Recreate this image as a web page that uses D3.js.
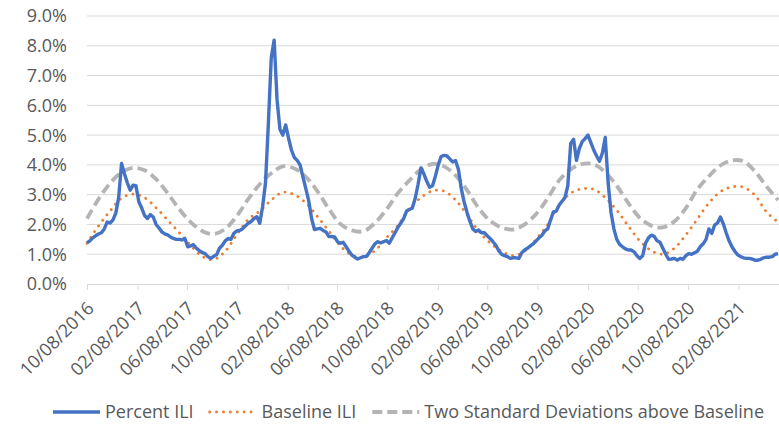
<!DOCTYPE html>
<html lang="en">
<head>
  <meta charset="UTF-8">
  <title>Percent ILI vs Baseline</title>
  <script src="https://d3js.org/d3.v7.min.js"></script>
  <style>
      body {
          margin: 0;
          padding: 0;
          background: #fff;
          font-family: 'Open Sans', sans-serif;
          overflow: hidden;
      }
      svg { display: block; }
      .tick-label { fill: #595959; font-size: 18px; }
  </style>
</head>
<body>
  <svg width="779" height="429"></svg>
  <script>
      // weekly data starting with the week ending 10/08/2016
      const startWeek = new Date(2016, 9, 8);

      // Percent ILI, one value per week
      const percentILI = [
          1.38, 1.45, 1.55, 1.62, 1.68, 1.72, 1.85, 2.08, 2.05, 2.15,
          2.38, 2.9, 4.05, 3.7, 3.4, 3.15, 3.32, 3.3, 2.76, 2.55,
          2.3, 2.2, 2.33, 2.25, 2.0, 1.88, 1.75, 1.68, 1.65, 1.58,
          1.53, 1.5, 1.5, 1.48, 1.53, 1.25, 1.28, 1.32, 1.2, 1.12,
          1.06, 1.02, 0.92, 0.86, 0.93, 0.98, 1.2, 1.3, 1.45, 1.53,
          1.5, 1.7, 1.78, 1.8, 1.85, 1.95, 2.04, 2.1, 2.2, 2.26,
          2.04, 2.6, 3.4, 5.4, 7.6, 8.19, 6.2, 5.2, 5.0, 5.34,
          4.9, 4.5, 4.25, 4.15, 4.0, 3.6, 3.2, 2.8, 2.2, 1.83,
          1.85, 1.87, 1.8, 1.75, 1.59, 1.6, 1.58, 1.42, 1.37, 1.4,
          1.25, 1.1, 0.97, 0.9, 0.84, 0.88, 0.92, 0.92, 1.05, 1.2,
          1.35, 1.42, 1.38, 1.42, 1.46, 1.37, 1.55, 1.72, 1.9, 2.05,
          2.2, 2.45, 2.5, 2.55, 2.88, 3.35, 3.9, 3.7, 3.45, 3.25,
          3.3, 3.62, 4.0, 4.28, 4.32, 4.3, 4.2, 4.1, 4.15, 3.85,
          3.2, 2.75, 2.4, 2.1, 1.85, 1.76, 1.81, 1.72, 1.72, 1.62,
          1.53, 1.42, 1.3, 1.12, 1.0, 0.95, 0.92, 0.86, 0.88, 0.88,
          0.86, 1.05, 1.14, 1.2, 1.28, 1.35, 1.45, 1.55, 1.64, 1.78,
          1.85, 2.15, 2.42, 2.45, 2.65, 2.78, 2.9, 3.3, 4.72, 4.86,
          4.15, 4.55, 4.78, 4.88, 5.0, 4.75, 4.5, 4.3, 4.12, 4.4,
          4.92, 3.4, 2.4, 1.85, 1.5, 1.33, 1.25, 1.18, 1.14, 1.14,
          1.08, 0.95, 0.86, 0.95, 1.37, 1.55, 1.64, 1.6, 1.45, 1.4,
          1.2, 1.0, 0.83, 0.84, 0.86, 0.8, 0.86, 0.83, 0.95, 1.02,
          1.0, 1.05, 1.1, 1.25, 1.35, 1.5, 1.85, 1.7, 1.98, 2.05,
          2.25, 2.02, 1.72, 1.45, 1.25, 1.1, 0.98, 0.92, 0.88, 0.86,
          0.86, 0.84, 0.8, 0.8, 0.83, 0.88, 0.9, 0.9, 0.92, 1.0,
          1.02
      ];

      // Baseline and threshold read every 4 weeks
      const baselineILI = [
          1.37, 1.95, 2.45, 2.88, 3.02, 2.9, 2.56, 2.15, 1.73, 1.3,
          0.93, 0.82, 1.1, 1.65, 2.17, 2.45, 2.82, 3.08, 3.0, 2.72,
          2.27, 1.78, 1.28, 0.97, 0.9, 1.12, 1.55, 1.97, 2.55, 2.9,
          3.13, 3.12, 2.82, 2.33, 1.78, 1.38, 1.1, 0.95, 1.1, 1.5,
          2.0, 2.65, 3.05, 3.2, 3.18, 2.9, 2.48, 1.95, 1.45, 1.12,
          1.0, 1.2, 1.65, 2.18, 2.72, 3.1, 3.26, 3.25, 2.98, 2.42,
          2.08
      ];
      const twoSDAbove = [
          2.2, 2.85, 3.38, 3.75, 3.9, 3.82, 3.52, 3.05, 2.52, 2.08,
          1.78, 1.68, 1.85, 2.28, 2.85, 3.35, 3.72, 3.95, 3.88, 3.6,
          3.12, 2.52, 2.02, 1.8, 1.77, 2.05, 2.5, 3.05, 3.48, 3.85,
          4.03, 3.95, 3.65, 3.15, 2.55, 2.12, 1.9, 1.83, 2.0, 2.35,
          2.88, 3.48, 3.85, 4.03, 4.02, 3.75, 3.3, 2.72, 2.22, 1.96,
          1.9, 2.1, 2.55, 3.18, 3.62, 3.98, 4.15, 4.12, 3.78, 3.28,
          2.82
      ];

      const yTicks = [0, 1, 2, 3, 4, 5, 6, 7, 8, 9];
      const seriesNames = ["Percent ILI", "Baseline ILI", "Two Standard Deviations above Baseline"];

      const weekDates = percentILI.map((d, i) => d3.timeDay.offset(startWeek, 7 * i));
      const curveDates = baselineILI.map((d, i) => d3.timeDay.offset(startWeek, 28 * i));

      const svg = d3.select("svg");
      const plotLeft = 87, plotRight = 778, plotTop = 16, plotBottom = 284;

      const x = d3.scaleTime()
          .domain([weekDates[0], weekDates[weekDates.length - 1]])
          .range([plotLeft, plotRight]);
      const y = d3.scaleLinear().domain([0, 9]).range([plotBottom, plotTop]);

      // x ticks every 4 months on the 8th
      const xTicks = [];
      for (let t = startWeek; t <= x.domain()[1]; t = d3.timeMonth.offset(t, 4)) xTicks.push(t);

      // gridlines
      svg.append("g")
          .selectAll("line")
          .data(yTicks.slice(1))
          .join("line")
          .attr("x1", plotLeft).attr("x2", 779)
          .attr("y1", d => y(d)).attr("y2", d => y(d))
          .attr("stroke", "#d9d9d9")
          .attr("stroke-width", 1);

      // y labels
      svg.append("g")
          .selectAll("text")
          .data(yTicks)
          .join("text")
          .attr("class", "tick-label")
          .attr("x", 67)
          .attr("y", d => y(d))
          .attr("dy", "0.36em")
          .attr("text-anchor", "end")
          .text(d => d.toFixed(1) + "%");

      // x axis
      const xAxis = d3.axisBottom(x)
          .tickValues(xTicks)
          .tickSize(6)
          .tickFormat(d3.timeFormat("%m/%d/%Y"));

      const gx = svg.append("g")
          .attr("transform", `translate(0,${plotBottom})`)
          .call(xAxis);
      gx.attr("font-family", null).attr("font-size", null);
      gx.select(".domain").attr("d", `M${plotLeft},0.5H779`).attr("stroke", "#d9d9d9");
      gx.selectAll(".tick line").attr("stroke", "#d9d9d9");
      gx.selectAll(".tick text")
          .attr("class", "tick-label")
          .attr("fill", null)
          .attr("text-anchor", "end")
          .attr("dy", "0.35em")
          .attr("y", 0)
          .attr("transform", "translate(3,21) rotate(-45)");

      const lineWeekly = d3.line()
          .x((d, i) => x(weekDates[i]))
          .y(d => y(d));
      const lineCurve = d3.line()
          .x((d, i) => x(curveDates[i]))
          .y(d => y(d))
          .curve(d3.curveCatmullRom);

      svg.append("path")
          .datum(twoSDAbove)
          .attr("d", lineCurve)
          .attr("fill", "none")
          .attr("stroke", "#b4b4b4")
          .attr("stroke-width", 3.8)
          .attr("stroke-dasharray", "10 5");

      svg.append("path")
          .datum(baselineILI)
          .attr("d", lineCurve)
          .attr("fill", "none")
          .attr("stroke", "#ed7d31")
          .attr("stroke-width", 2.8)
          .attr("stroke-linecap", "round")
          .attr("stroke-dasharray", "0.1 6.8");

      svg.append("path")
          .datum(percentILI)
          .attr("d", lineWeekly)
          .attr("fill", "none")
          .attr("stroke", "#4472c4")
          .attr("stroke-width", 3.4)
          .attr("stroke-linejoin", "round");

      // legend
      const legendStyles = [
          { stroke: "#4472c4", width: 3.4, dash: null, cap: "butt" },
          { stroke: "#ed7d31", width: 2.8, dash: "0.1 6.8", cap: "round" },
          { stroke: "#b4b4b4", width: 3.8, dash: "10 5", cap: "butt" }
      ];
      const legend = svg.append("g");
      let lx = 0;
      seriesNames.forEach((name, i) => {
          const st = legendStyles[i];
          legend.append("line")
              .attr("x1", lx).attr("x2", lx + 47)
              .attr("y1", 412).attr("y2", 412)
              .attr("stroke", st.stroke)
              .attr("stroke-width", st.width)
              .attr("stroke-linecap", st.cap)
              .attr("stroke-dasharray", st.dash);
          const t = legend.append("text")
              .attr("class", "tick-label")
              .attr("x", lx + 52)
              .attr("y", 412)
              .attr("dy", "0.36em")
              .text(name);
          lx += 52 + t.node().getComputedTextLength() + 16;
      });
      const legendWidth = lx - 16;
      legend.attr("transform", `translate(${408.5 - legendWidth / 2},0)`);
  </script>
</body>
</html>
